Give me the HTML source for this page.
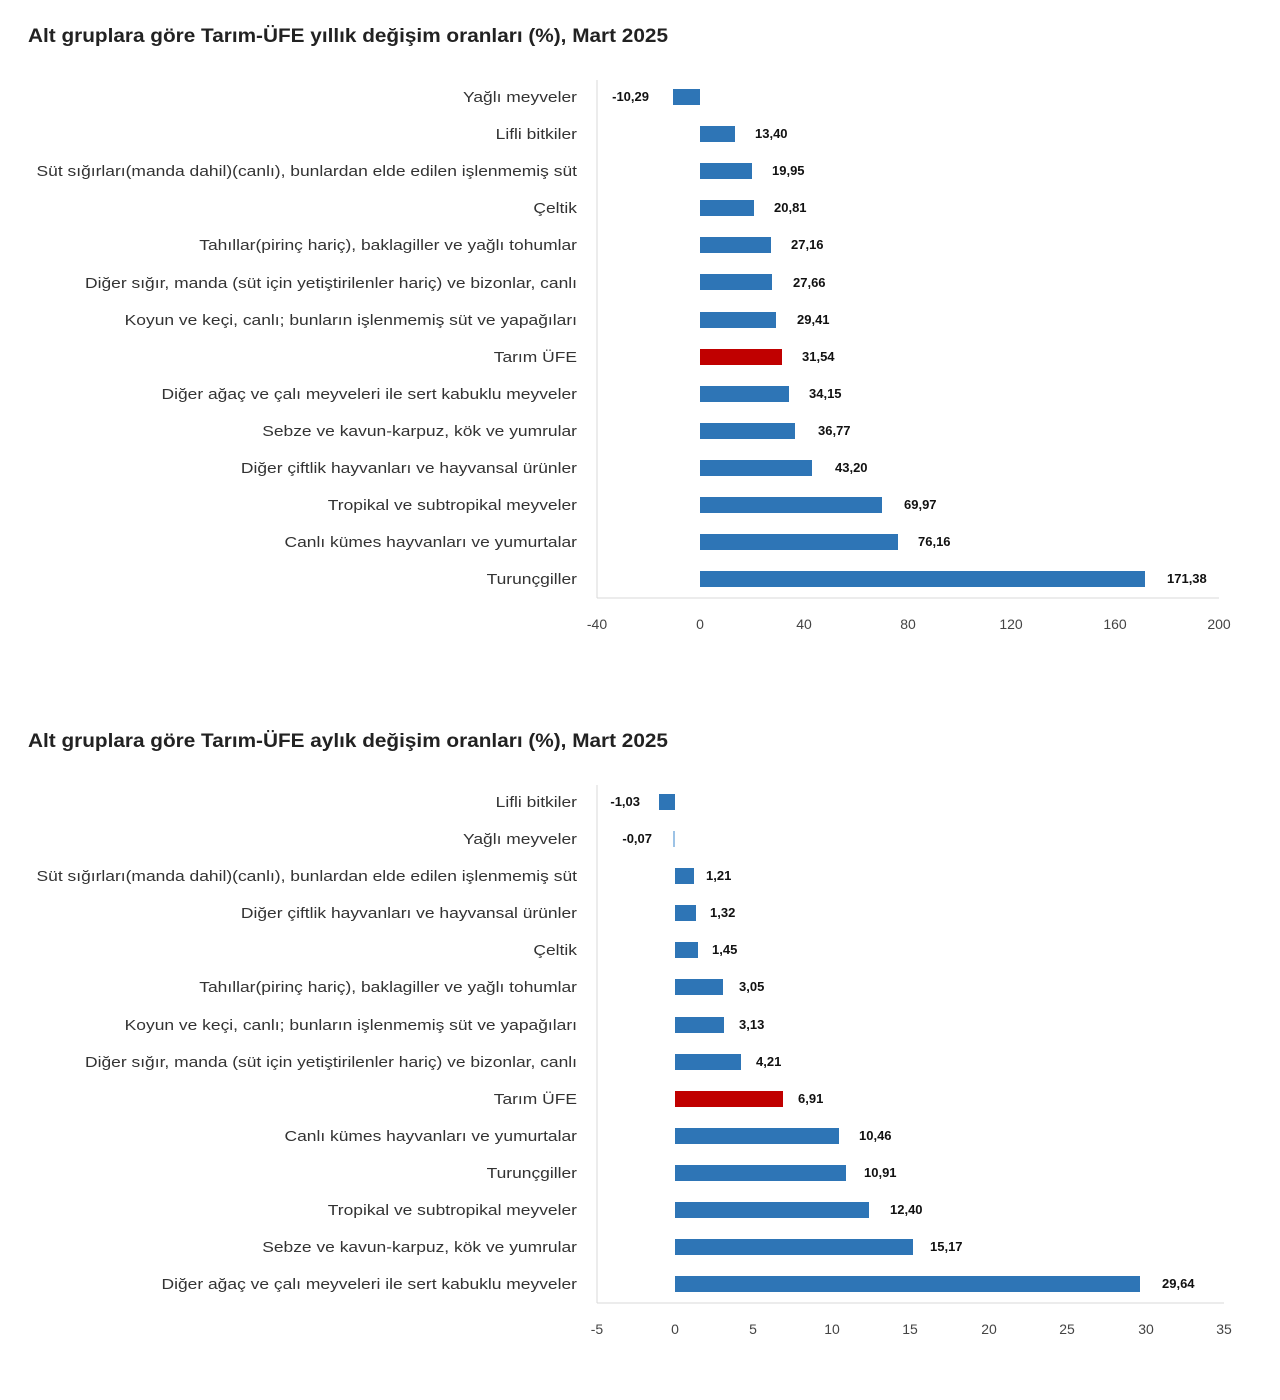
<!DOCTYPE html>
<html><head><meta charset="utf-8"><style>
html,body{margin:0;padding:0;background:#fff;}
svg{display:block;font-family:"Liberation Sans",sans-serif;}
.t{font-size:19px;font-weight:bold;fill:#222;}
.l{font-size:15px;fill:#333;text-anchor:end;}
.v{font-size:13px;font-weight:bold;fill:#111;}
.k{font-size:14px;fill:#444;text-anchor:middle;}
</style></head><body>
<svg width="1280" height="1400" viewBox="0 0 1280 1400">
<text class="t" x="28" y="42" textLength="640" lengthAdjust="spacingAndGlyphs">Alt gruplara göre Tarım-ÜFE yıllık değişim oranları (%), Mart 2025</text>
<line x1="597" y1="80" x2="597" y2="598" stroke="#d9d9d9"/>
<line x1="597" y1="598" x2="1219" y2="598" stroke="#d9d9d9"/>
<g class="l" transform="translate(577,0) scale(1.163,1) translate(-577,0)">
<text x="577" y="102">Yağlı meyveler</text>
<text x="577" y="139">Lifli bitkiler</text>
<text x="577" y="176">Süt sığırları(manda dahil)(canlı), bunlardan elde edilen işlenmemiş süt</text>
<text x="577" y="213">Çeltik</text>
<text x="577" y="250">Tahıllar(pirinç hariç), baklagiller ve yağlı tohumlar</text>
<text x="577" y="288">Diğer sığır, manda (süt için yetiştirilenler hariç) ve bizonlar, canlı</text>
<text x="577" y="325">Koyun ve keçi, canlı; bunların işlenmemiş süt ve yapağıları</text>
<text x="577" y="362">Tarım ÜFE</text>
<text x="577" y="399">Diğer ağaç ve çalı meyveleri ile sert kabuklu meyveler</text>
<text x="577" y="436">Sebze ve kavun-karpuz, kök ve yumrular</text>
<text x="577" y="473">Diğer çiftlik hayvanları ve hayvansal ürünler</text>
<text x="577" y="510">Tropikal ve subtropikal meyveler</text>
<text x="577" y="547">Canlı kümes hayvanları ve yumurtalar</text>
<text x="577" y="584">Turunçgiller</text>
</g>
<g fill="#2e75b6">
<rect x="673" y="89" width="27" height="16"/>
<rect x="700" y="126" width="35" height="16"/>
<rect x="700" y="163" width="52" height="16"/>
<rect x="700" y="200" width="54" height="16"/>
<rect x="700" y="237" width="71" height="16"/>
<rect x="700" y="274" width="72" height="16"/>
<rect x="700" y="312" width="76" height="16"/>
<rect x="700" y="349" width="82" height="16" fill="#c00000"/>
<rect x="700" y="386" width="89" height="16"/>
<rect x="700" y="423" width="95" height="16"/>
<rect x="700" y="460" width="112" height="16"/>
<rect x="700" y="497" width="182" height="16"/>
<rect x="700" y="534" width="198" height="16"/>
<rect x="700" y="571" width="445" height="16"/>
</g>
<g class="v">
<text x="649" y="101" text-anchor="end">-10,29</text>
<text x="755" y="138">13,40</text>
<text x="772" y="175">19,95</text>
<text x="774" y="212">20,81</text>
<text x="791" y="249">27,16</text>
<text x="793" y="287">27,66</text>
<text x="797" y="324">29,41</text>
<text x="802" y="361">31,54</text>
<text x="809" y="398">34,15</text>
<text x="818" y="435">36,77</text>
<text x="835" y="472">43,20</text>
<text x="904" y="509">69,97</text>
<text x="918" y="546">76,16</text>
<text x="1167" y="583">171,38</text>
</g>
<g class="k">
<text x="597" y="629">-40</text><text x="700" y="629">0</text><text x="804" y="629">40</text><text x="908" y="629">80</text><text x="1011" y="629">120</text><text x="1115" y="629">160</text><text x="1219" y="629">200</text>
</g>

<text class="t" x="28" y="747" textLength="640" lengthAdjust="spacingAndGlyphs">Alt gruplara göre Tarım-ÜFE aylık değişim oranları (%), Mart 2025</text>
<line x1="597" y1="785" x2="597" y2="1303" stroke="#d9d9d9"/>
<line x1="597" y1="1303" x2="1224" y2="1303" stroke="#d9d9d9"/>
<g class="l" transform="translate(577,0) scale(1.163,1) translate(-577,0)">
<text x="577" y="807">Lifli bitkiler</text>
<text x="577" y="844">Yağlı meyveler</text>
<text x="577" y="881">Süt sığırları(manda dahil)(canlı), bunlardan elde edilen işlenmemiş süt</text>
<text x="577" y="918">Diğer çiftlik hayvanları ve hayvansal ürünler</text>
<text x="577" y="955">Çeltik</text>
<text x="577" y="992">Tahıllar(pirinç hariç), baklagiller ve yağlı tohumlar</text>
<text x="577" y="1030">Koyun ve keçi, canlı; bunların işlenmemiş süt ve yapağıları</text>
<text x="577" y="1067">Diğer sığır, manda (süt için yetiştirilenler hariç) ve bizonlar, canlı</text>
<text x="577" y="1104">Tarım ÜFE</text>
<text x="577" y="1141">Canlı kümes hayvanları ve yumurtalar</text>
<text x="577" y="1178">Turunçgiller</text>
<text x="577" y="1215">Tropikal ve subtropikal meyveler</text>
<text x="577" y="1252">Sebze ve kavun-karpuz, kök ve yumrular</text>
<text x="577" y="1289">Diğer ağaç ve çalı meyveleri ile sert kabuklu meyveler</text>
</g>
<g fill="#2e75b6">
<rect x="659" y="794" width="16" height="16"/>
<rect x="673" y="831" width="2" height="16" fill="#9dc3e6"/>
<rect x="675" y="868" width="19" height="16"/>
<rect x="675" y="905" width="21" height="16"/>
<rect x="675" y="942" width="23" height="16"/>
<rect x="675" y="979" width="48" height="16"/>
<rect x="675" y="1017" width="49" height="16"/>
<rect x="675" y="1054" width="66" height="16"/>
<rect x="675" y="1091" width="108" height="16" fill="#c00000"/>
<rect x="675" y="1128" width="164" height="16"/>
<rect x="675" y="1165" width="171" height="16"/>
<rect x="675" y="1202" width="194" height="16"/>
<rect x="675" y="1239" width="238" height="16"/>
<rect x="675" y="1276" width="465" height="16"/>
</g>
<g class="v">
<text x="640" y="806" text-anchor="end">-1,03</text>
<text x="652" y="843" text-anchor="end">-0,07</text>
<text x="706" y="880">1,21</text>
<text x="710" y="917">1,32</text>
<text x="712" y="954">1,45</text>
<text x="739" y="991">3,05</text>
<text x="739" y="1029">3,13</text>
<text x="756" y="1066">4,21</text>
<text x="798" y="1103">6,91</text>
<text x="859" y="1140">10,46</text>
<text x="864" y="1177">10,91</text>
<text x="890" y="1214">12,40</text>
<text x="930" y="1251">15,17</text>
<text x="1162" y="1288">29,64</text>
</g>
<g class="k">
<text x="597" y="1334">-5</text><text x="675" y="1334">0</text><text x="753" y="1334">5</text><text x="832" y="1334">10</text><text x="910" y="1334">15</text><text x="989" y="1334">20</text><text x="1067" y="1334">25</text><text x="1146" y="1334">30</text><text x="1224" y="1334">35</text>
</g>
</svg>
</body></html>
